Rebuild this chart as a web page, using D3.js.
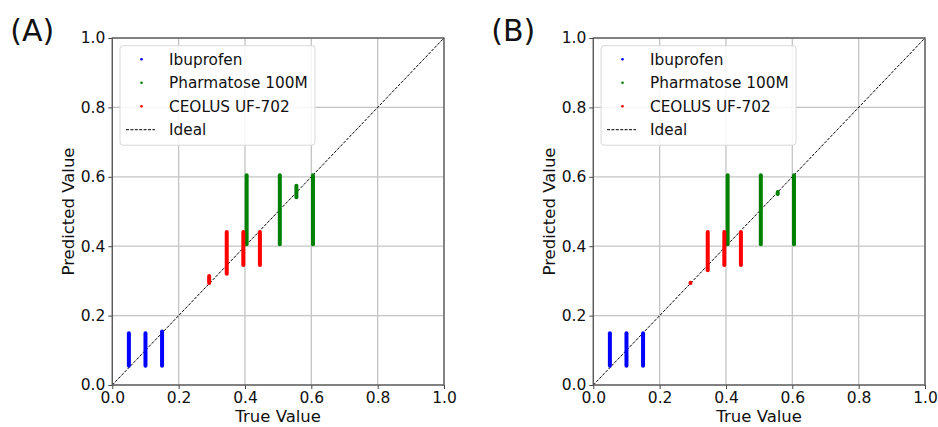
<!DOCTYPE html>
<html>
<head>
<meta charset="utf-8">
<script src="https://d3js.org/d3.v7.min.js"></script>
<style>
  body { margin: 0; background: #fff; }
  text { font-family: "DejaVu Sans", sans-serif; fill: #111; }
</style>
</head>
<body>
<script>
// series names + colours (matplotlib b, g, r)
const seriesNames = ["Ibuprofen", "Pharmatose 100M", "CEOLUS UF-702"];
const seriesColors = ["#0000ff", "#008000", "#ff0000"];
const ticks = [0.0, 0.2, 0.4, 0.6, 0.8, 1.0];

// each cluster of points: [true value, lowest predicted, highest predicted]
// panel (A)
const ibuprofenA = [[0.05, 0.05, 0.155], [0.10, 0.05, 0.155], [0.15, 0.05, 0.16]];
const pharmatoseA = [[0.405, 0.40, 0.61], [0.505, 0.40, 0.61], [0.555, 0.535, 0.58], [0.605, 0.40, 0.61]];
const ceolusA = [[0.292, 0.288, 0.32], [0.345, 0.315, 0.447], [0.395, 0.34, 0.447], [0.445, 0.34, 0.447]];
// panel (B)
const ibuprofenB = [[0.05, 0.05, 0.155], [0.10, 0.05, 0.155], [0.15, 0.05, 0.155]];
const pharmatoseB = [[0.405, 0.40, 0.61], [0.505, 0.40, 0.61], [0.556, 0.545, 0.562], [0.605, 0.40, 0.61]];
const ceolusB = [[0.293, 0.289, 0.30], [0.345, 0.325, 0.447], [0.395, 0.34, 0.447], [0.445, 0.34, 0.447]];

const W = 938, H = 427;
const svg = d3.select("body").append("svg")
    .attr("width", W)
    .attr("height", H);

function drawPanel(left, label, clusters) {
    var right = left + 331.7;
    var top = 38, bottom = 385;
    var x = d3.scaleLinear().domain([0, 1]).range([left, right]);
    var y = d3.scaleLinear().domain([0, 1]).range([bottom, top]);
    var g = svg.append("g");

    // grid
    g.selectAll(".gx").data(ticks).enter().append("line")
        .attr("x1", d => x(d)).attr("x2", d => x(d))
        .attr("y1", top).attr("y2", bottom)
        .attr("stroke", "#c4c4c4").attr("stroke-width", 1.3);
    g.selectAll(".gy").data(ticks).enter().append("line")
        .attr("x1", left).attr("x2", right)
        .attr("y1", d => y(d)).attr("y2", d => y(d))
        .attr("stroke", "#c4c4c4").attr("stroke-width", 1.3);

    // ideal line
    g.append("line")
        .attr("x1", x(0)).attr("y1", y(0))
        .attr("x2", x(1)).attr("y2", y(1))
        .attr("stroke", "#000").attr("stroke-width", 1)
        .attr("stroke-dasharray", "3,1.4");

    // point clusters, drawn as stacks of dots (vertical strokes with round ends)
    var r = 2;
    clusters.forEach(function(cl, si) {
        g.selectAll(null).data(cl).enter().append("line")
            .attr("x1", d => x(d[0])).attr("x2", d => x(d[0]))
            .attr("y1", d => y(d[1]) - r).attr("y2", d => y(d[2]) + r)
            .attr("stroke", seriesColors[si])
            .attr("stroke-width", 2 * r)
            .attr("stroke-linecap", "round");
    });

    // axes
    var xAxis = g.append("g").attr("transform", "translate(0," + bottom + ")")
        .call(d3.axisBottom(x).tickValues(ticks).tickFormat(d3.format(".1f")).tickSize(4).tickPadding(3));
    var yAxis = g.append("g").attr("transform", "translate(" + left + ",0)")
        .call(d3.axisLeft(y).tickValues(ticks).tickFormat(d3.format(".1f")).tickSize(4).tickPadding(3));
    [xAxis, yAxis].forEach(function(a) {
        a.select(".domain").remove();
        a.selectAll("line").attr("stroke", "#444");
        a.selectAll("text").style("font-size", "15.5px").style("font-family", "DejaVu Sans, sans-serif").attr("fill", "#111");
    });
    g.append("rect")
        .attr("x", left).attr("y", top)
        .attr("width", right - left).attr("height", bottom - top)
        .attr("fill", "none").attr("stroke", "#555").attr("stroke-width", 1.3);

    // axis labels
    g.append("text")
        .attr("x", (left + right) / 2).attr("y", 422)
        .attr("text-anchor", "middle").style("font-size", "16.5px")
        .text("True Value");
    g.append("text")
        .attr("transform", "translate(" + (left - 38) + "," + ((top + bottom) / 2) + ") rotate(-90)")
        .attr("text-anchor", "middle").style("font-size", "16.5px")
        .text("Predicted Value");

    // panel label
    g.append("text")
        .attr("x", left - 102).attr("y", 41)
        .style("font-size", "30px")
        .text(label);

    // legend
    var lx = left + 7.7, ly = 45.7;
    var lg = g.append("g");
    lg.append("rect")
        .attr("x", lx).attr("y", ly)
        .attr("width", 195).attr("height", 99.5)
        .attr("rx", 3)
        .attr("fill", "#fff").attr("fill-opacity", 0.85)
        .attr("stroke", "#d8d8d8");
    var rows = seriesNames.concat(["Ideal"]);
    rows.forEach(function(name, i) {
        var cy = ly + 13.5 + i * 23.5;
        if (i < 3) {
            lg.append("circle")
                .attr("cx", lx + 21.5).attr("cy", cy)
                .attr("r", 1.3).attr("fill", seriesColors[i]);
        } else {
            lg.append("line")
                .attr("x1", lx + 6).attr("x2", lx + 35)
                .attr("y1", cy).attr("y2", cy)
                .attr("stroke", "#000").attr("stroke-width", 1)
                .attr("stroke-dasharray", "3,1.4");
        }
        lg.append("text")
            .attr("x", lx + 49).attr("y", cy + 5.5)
            .style("font-size", "15.3px")
            .text(name);
    });
}

drawPanel(112.3, "(A)", [ibuprofenA, pharmatoseA, ceolusA]);
drawPanel(593.3, "(B)", [ibuprofenB, pharmatoseB, ceolusB]);
</script>
</body>
</html>
